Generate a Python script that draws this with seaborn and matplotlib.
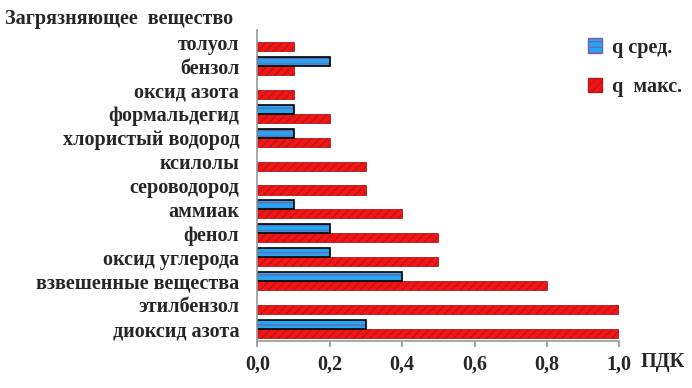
import pandas as pd
import matplotlib.pyplot as plt
import matplotlib.patches as mpatches
import seaborn as sns

substances = ['толуол', 'бензол', 'оксид азота', 'формальдегид',
              'хлористый водород', 'ксилолы', 'сероводород', 'аммиак',
              'фенол', 'оксид углерода', 'взвешенные вещества',
              'этилбензол', 'диоксид азота']
q_avg = [0.0, 0.2, 0.0, 0.1, 0.1, 0.0, 0.0, 0.1, 0.2, 0.2, 0.4, 0.0, 0.3]
q_max = [0.1, 0.1, 0.1, 0.2, 0.2, 0.3, 0.3, 0.4, 0.5, 0.5, 0.8, 1.0, 1.0]
series = ['q сред.', 'q  макс.']
x_ticks = [0.0, 0.2, 0.4, 0.6, 0.8, 1.0]

df = pd.DataFrame({
    'substance': substances * 2,
    'value': q_avg + q_max,
    'series': [series[0]] * len(substances) + [series[1]] * len(substances),
})

sns.set_theme(style="white")
plt.rcParams['font.family'] = ['Liberation Serif', 'DejaVu Serif']
plt.rcParams['font.weight'] = 'bold'
plt.rcParams['hatch.linewidth'] = 0.9

blue = '#22a8f0'
red = '#f41414'
fs = 14.5

fig = plt.figure(figsize=(6.92, 3.88), dpi=100)
ax = fig.add_axes([0.372, 0.122, 0.523, 0.80])

sns.barplot(data=df, y='substance', x='value', hue='series', order=substances,
            hue_order=series, palette=[blue, red], orient='h', width=0.76,
            saturation=1, ax=ax, legend=False)

n = len(substances)
for i, p in enumerate(ax.patches):
    if i < n:
        p.set_edgecolor('#7860b0')
        p.set_hatch('---')
        p.set_linewidth(0)
        if p.get_width() > 0:
            ax.add_patch(mpatches.Rectangle(p.get_xy(), p.get_width(), p.get_height(),
                                            fill=False, edgecolor='black', linewidth=1.2))
    else:
        p.set_edgecolor('#b01a1a')
        p.set_hatch('////')
        p.set_linewidth(0.6)

ax.set_xlim(0, 1.0)
ax.set_xticks(x_ticks)
ax.set_xticklabels([f'{t:.1f}'.replace('.', ',') for t in x_ticks])
ax.set_xlabel('')
ax.set_ylabel('')
ax.tick_params(axis='x', labelsize=fs, bottom=True, length=4, color='#999999', pad=6)
ax.tick_params(axis='y', labelsize=fs, left=False, pad=7)
for lab in ax.get_xticklabels() + ax.get_yticklabels():
    lab.set_fontweight('bold')
for side in ['top', 'right']:
    ax.spines[side].set_visible(False)
for side in ['left', 'bottom']:
    ax.spines[side].set_color('#999999')
    ax.spines[side].set_linewidth(1.2)

fig.text(0.007, 0.952, 'Загрязняющее  вещество', fontsize=fs, fontweight='bold', va='center')
fig.text(0.925, 0.067, 'ПДК', fontsize=fs, fontweight='bold', va='center')

handles = [mpatches.Patch(facecolor=blue, edgecolor='#7860b0', hatch='---', label=series[0]),
           mpatches.Patch(facecolor=red, edgecolor='#b01a1a', hatch='////', label=series[1])]
fig.legend(handles=handles, loc='upper left', bbox_to_anchor=(0.823, 0.95), frameon=False,
           handlelength=0.7, handleheight=0.7, handletextpad=0.5,
           labelspacing=0.95, prop={'weight': 'bold', 'size': fs})

plt.savefig('out.png', dpi=100)
plt.close()
